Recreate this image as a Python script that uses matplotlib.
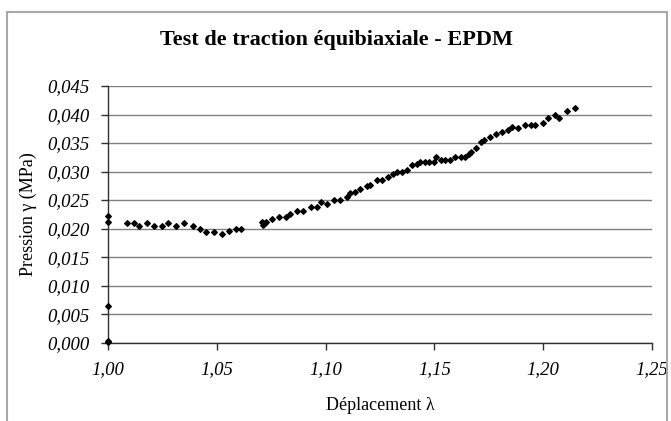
import matplotlib
matplotlib.use("Agg")
import matplotlib.pyplot as plt
from matplotlib.patches import Rectangle
from matplotlib.ticker import FuncFormatter

title = "Test de traction équibiaxiale - EPDM"
xlabel = "Déplacement λ"
ylabel = "Pression γ (MPa)"

lam = [1.0000, 1.0000, 1.0000, 1.0000, 1.0000,
       1.0089, 1.0121, 1.0144, 1.0177, 1.0212, 1.0247, 1.0275, 1.0311, 1.0349,
       1.0391, 1.0425, 1.0449, 1.0486, 1.0522, 1.0555, 1.0590, 1.0609,
       1.0706, 1.0713, 1.0720, 1.0728, 1.0754, 1.0784, 1.0819, 1.0835, 1.0869,
       1.0896, 1.0931, 1.0960, 1.0980, 1.1006, 1.1037, 1.1067, 1.1098, 1.1113,
       1.1133, 1.1159, 1.1189, 1.1205, 1.1236, 1.1260, 1.1288, 1.1309, 1.1327,
       1.1349, 1.1373, 1.1398, 1.1419, 1.1434, 1.1456, 1.1477, 1.1497, 1.1508,
       1.1530, 1.1550, 1.1572, 1.1596, 1.1622, 1.1640, 1.1660, 1.1668, 1.1693,
       1.1713, 1.1729, 1.1755, 1.1782, 1.1810, 1.1836, 1.1856, 1.1886, 1.1917,
       1.1943, 1.1963, 1.1997, 1.2023, 1.2055, 1.2073, 1.2109, 1.2144]
gamma = [0.0222, 0.0211, 0.0065, 0.0003, 0.0001,
         0.0209, 0.0209, 0.0204, 0.0209, 0.0204, 0.0204, 0.0209, 0.0204, 0.0209,
         0.0204, 0.0200, 0.0194, 0.0194, 0.0190, 0.0195, 0.0200, 0.0200,
         0.0211, 0.0207, 0.0209, 0.0212, 0.0217, 0.0221, 0.0221, 0.0225, 0.0230,
         0.0230, 0.0238, 0.0238, 0.0246, 0.0243, 0.0251, 0.0251, 0.0256, 0.0262,
         0.0265, 0.0270, 0.0274, 0.0277, 0.0286, 0.0286, 0.0290, 0.0296, 0.0300,
         0.0300, 0.0303, 0.0312, 0.0313, 0.0317, 0.0317, 0.0317, 0.0316, 0.0326,
         0.0321, 0.0321, 0.0321, 0.0326, 0.0326, 0.0326, 0.0330, 0.0335, 0.0342,
         0.0352, 0.0355, 0.0361, 0.0365, 0.0369, 0.0373, 0.0378, 0.0377, 0.0382,
         0.0382, 0.0382, 0.0386, 0.0394, 0.0399, 0.0394, 0.0407, 0.0411]

x_ticks = [1.00, 1.05, 1.10, 1.15, 1.20, 1.25]
y_ticks = [0.000, 0.005, 0.010, 0.015, 0.020, 0.025, 0.030, 0.035, 0.040, 0.045]

serif = ["Liberation Serif", "DejaVu Serif"]

fig = plt.figure(figsize=(6.71, 4.21), dpi=100)
fig.patches.append(Rectangle((7 / 671, -0.05), (667 - 7) / 671, 1.05 - 12 / 421,
                             transform=fig.transFigure, fill=False,
                             edgecolor="#a8a8a8", linewidth=1.5))

ax = fig.add_axes([108 / 671, 1 - 342.7 / 421, (652 - 108) / 671, (342.7 - 86) / 421])
ax.set_xlim(1.0, 1.25)
ax.set_ylim(0.0, 0.045)
ax.set_xticks(x_ticks)
ax.set_yticks(y_ticks)
ax.xaxis.set_major_formatter(FuncFormatter(lambda v, p: f"{v:.2f}".replace(".", ",")))
ax.yaxis.set_major_formatter(FuncFormatter(lambda v, p: f"{v:.3f}".replace(".", ",")))

ax.grid(axis="y", color="#808080", linewidth=1)
ax.set_axisbelow(True)
for s in ["top", "right"]:
    ax.spines[s].set_visible(False)
for s in ["left", "bottom"]:
    ax.spines[s].set_color("#303030")
    ax.spines[s].set_linewidth(1)

ax.tick_params(direction="out", length=5, width=1, color="#303030",
               labelsize=13.5, pad=8)
for lbl in ax.get_xticklabels() + ax.get_yticklabels():
    lbl.set_fontfamily(serif)
    lbl.set_fontstyle("italic")

ax.scatter(lam, gamma, marker="D", s=8, color="black", zorder=5, clip_on=False)

ax.set_xlabel(xlabel, fontsize=13, family=serif, labelpad=14)
ax.set_ylabel(ylabel, fontsize=13, family=serif, labelpad=8)
fig.text(0.5 * (7 + 667) / 671, 1 - 40 / 421, title, ha="center", va="center",
         fontsize=16, fontweight="bold", family=serif)

fig.savefig("out.png", dpi=100)
